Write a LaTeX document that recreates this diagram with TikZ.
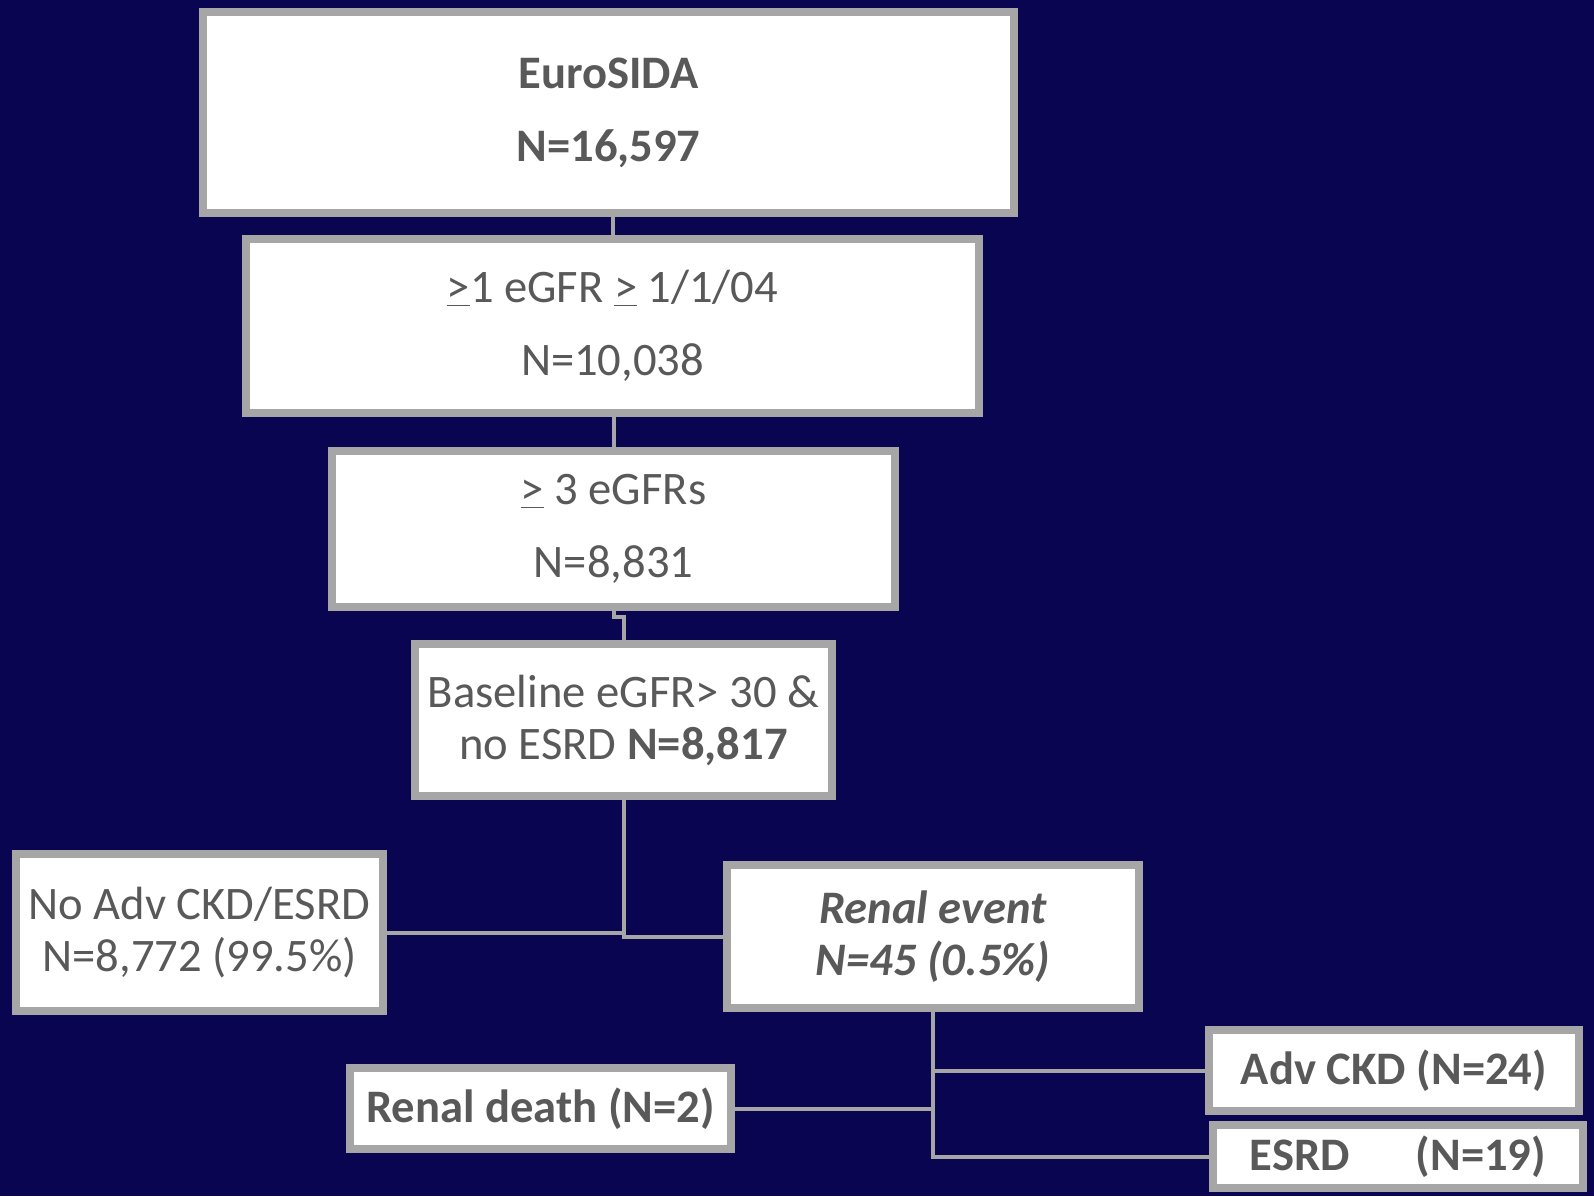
\documentclass[tikz,border=0pt]{standalone}
\usepackage{fontspec}
\setmainfont{Carlito}
\usetikzlibrary{shadows}
\definecolor{bg}{HTML}{0A0550}
\definecolor{bordergray}{HTML}{A6A6A6}
\definecolor{txtgray}{HTML}{595959}
\tikzset{
  box/.style={draw=bordergray, line width=4pt, fill=white, inner sep=0pt,
    align=center, text=txtgray,
    drop shadow={shadow xshift=1.2pt, shadow yshift=-1.2pt, opacity=0.45, fill=black}},
  wide/.style={font=\fontsize{23.3}{36.5}\selectfont},
  tight/.style={font=\fontsize{23.3}{26}\selectfont},
  conn/.style={draw=bordergray, line width=2pt}
}
\begin{document}
\begin{tikzpicture}[x=0.5pt, y=-0.5pt]
\fill[bg] (0,0) rectangle (1594,1196);
\useasboundingbox (0,0) rectangle (1594,1196);

\node[box, wide, minimum width=405.5pt, minimum height=100.5pt] (b1) at (608.5,112.5)
  {\textbf{EuroSIDA}\\\textbf{N=16,597}};
\node[box, wide, minimum width=366.5pt, minimum height=87pt] (b2) at (612.5,326)
  {\underline{>}1 eGFR \underline{>} 1/1/04\\N=10,038};
\node[box, wide, minimum width=281.5pt, minimum height=78pt] (b3) at (613.5,529)
  {\underline{>} 3 eGFRs\\N=8,831};
\node[box, tight, minimum width=208.5pt, minimum height=76pt] (b4) at (623.5,720)
  {Baseline eGFR> 30 \&\\no ESRD \textbf{N=8,817}};
\node[box, tight, minimum width=183.5pt, minimum height=78.5pt] (b5) at (199.5,932.5)
  {No Adv CKD/ESRD\\N=8,772 (99.5\%)};
\node[box, tight, minimum width=206pt, minimum height=71.5pt] (b6) at (933,936.5)
  {\textbf{\textit{Renal event}}\\\textbf{\textit{N=45 (0.5\%)}}};
\node[box, tight, minimum width=190.5pt, minimum height=40.5pt] (b7) at (540.5,1108.5)
  {\textbf{Renal death (N=2)}};
\node[box, tight, minimum width=185pt, minimum height=40.5pt] (b8) at (1394,1070.5)
  {\textbf{Adv CKD (N=24)}};
\node[box, tight, minimum width=185pt, minimum height=31.5pt] (b9) at (1398,1156.5)
  {\textbf{ESRD\hspace{33pt}(N=19)}};

\begin{scope}[line cap=butt]
\draw[conn] (b2.north) -- (b2.north |- b1.south);
\draw[conn] (b2.south -| b3.north) -- (b3.north);
\draw[conn] (b3.south) -- ++(0,6) -| (b4.north);
\draw[conn] (b4.south) |- (b6.west);
\draw[conn] (b5.east) -- (b5.east -| b4.south);
\draw[conn] (b6.south) |- (b9.west);
\draw[conn] (b8.west) -- (b8.west -| b6.south);
\draw[conn] (b7.east) -- (b7.east -| b6.south);
\end{scope}
\end{tikzpicture}
\end{document}
